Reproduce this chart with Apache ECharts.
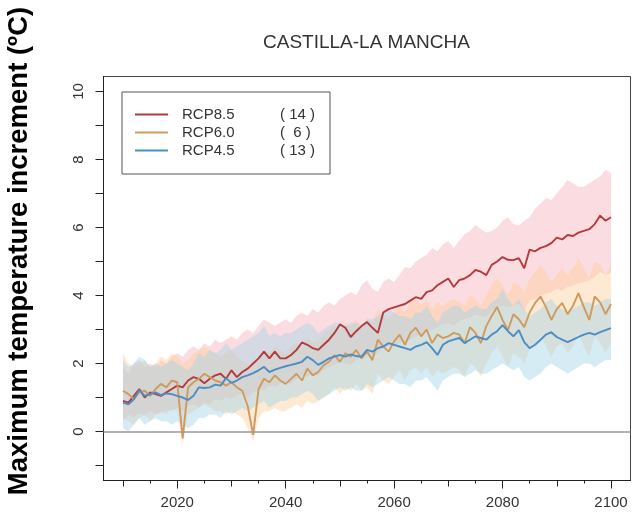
<!DOCTYPE html>
<html>
<head>
<meta charset="utf-8">
<script src="https://cdn.jsdelivr.net/npm/echarts@6/dist/echarts.min.js"></script>
<style>
  html, body { margin: 0; padding: 0; background: #ffffff; }
  #chart { width: 644px; height: 515px; }
</style>
</head>
<body>
<div id="chart"></div>
<script>
// Years of the projection (annual values)
const years = [
  2010,2011,2012,2013,2014,2015,2016,2017,2018,2019,
  2020,2021,2022,2023,2024,2025,2026,2027,2028,2029,
  2030,2031,2032,2033,2034,2035,2036,2037,2038,2039,
  2040,2041,2042,2043,2044,2045,2046,2047,2048,2049,
  2050,2051,2052,2053,2054,2055,2056,2057,2058,2059,
  2060,2061,2062,2063,2064,2065,2066,2067,2068,2069,
  2070,2071,2072,2073,2074,2075,2076,2077,2078,2079,
  2080,2081,2082,2083,2084,2085,2086,2087,2088,2089,
  2090,2091,2092,2093,2094,2095,2096,2097,2098,2099,2100
];

// Ensemble mean of maximum temperature increment (ºC)
const rcp85Mean = [
  0.90,0.85,1.05,1.25,1.00,1.15,1.10,1.05,1.15,1.25,
  1.35,1.30,1.50,1.60,1.55,1.42,1.55,1.65,1.70,1.55,
  1.80,1.60,1.75,1.85,2.00,2.15,2.35,2.15,2.35,2.15,
  2.15,2.25,2.40,2.62,2.55,2.45,2.40,2.55,2.70,2.90,
  3.15,3.05,2.78,2.95,3.10,3.22,3.05,2.90,3.50,3.60,
  3.65,3.70,3.75,3.85,3.95,3.90,4.10,4.15,4.30,4.40,
  4.50,4.25,4.45,4.50,4.60,4.75,4.70,4.60,4.90,5.00,
  5.13,5.05,5.04,5.10,4.80,5.35,5.30,5.40,5.45,5.54,
  5.70,5.65,5.78,5.75,5.85,5.90,5.95,6.10,6.35,6.20,6.30
];
const rcp60Mean = [
  1.20,1.10,0.95,1.15,1.20,1.05,1.25,1.40,1.30,1.50,
  1.45,-0.20,1.30,1.45,1.55,1.70,1.60,1.50,1.45,1.35,
  1.45,1.30,1.20,0.75,-0.10,1.25,1.55,1.45,1.65,1.50,
  1.40,1.55,1.70,1.50,1.85,1.65,1.75,1.95,2.05,2.25,
  2.05,2.30,2.20,2.40,2.15,2.35,2.10,2.70,2.50,2.35,
  2.65,2.85,2.55,2.90,3.05,2.80,3.00,2.60,2.85,2.75,
  2.80,2.90,2.85,2.60,3.07,2.90,2.60,3.10,3.40,3.66,
  3.28,2.98,3.45,3.30,3.07,3.50,3.78,3.97,3.66,3.28,
  3.60,3.78,3.45,3.70,4.07,3.66,3.28,3.97,3.80,3.45,3.75
];
const rcp45Mean = [
  0.85,0.80,0.95,1.22,1.05,1.10,1.15,1.07,1.12,1.10,
  1.05,1.00,0.93,1.05,1.30,1.28,1.30,1.38,1.35,1.57,
  1.43,1.50,1.60,1.65,1.72,1.80,1.90,1.75,1.82,1.87,
  1.92,1.96,2.00,2.05,2.20,2.10,1.96,2.05,2.15,2.20,
  2.25,2.20,2.27,2.22,2.20,2.40,2.35,2.45,2.50,2.60,
  2.55,2.50,2.45,2.40,2.50,2.55,2.63,2.45,2.25,2.55,
  2.65,2.70,2.75,2.60,2.70,2.80,2.75,2.70,2.85,2.95,
  3.13,2.95,2.80,2.98,2.63,2.45,2.55,2.70,2.85,2.92,
  2.78,2.70,2.63,2.70,2.78,2.85,2.90,2.85,2.92,2.98,3.04
];

// Ensemble spread (lower and upper limits)
const rcp85Low = [
  0.30,0.50,0.40,0.55,0.45,0.60,0.50,0.55,0.65,0.60,
  0.70,0.60,0.75,0.80,0.70,0.85,0.80,0.95,0.90,1.00,
  0.95,1.05,1.10,1.00,1.15,1.25,1.20,1.35,1.30,1.40,
  1.45,1.40,1.55,1.65,1.60,1.70,1.65,1.80,1.90,1.95,
  2.05,2.00,1.95,2.10,2.20,2.25,2.15,2.30,2.45,2.50,
  2.55,2.60,2.65,2.70,2.80,2.85,2.95,3.00,3.05,3.15,
  3.20,3.10,3.25,3.30,3.35,3.45,3.40,3.35,3.55,3.65,
  3.70,3.65,3.70,3.75,3.55,3.85,3.90,4.00,4.05,4.10,
  4.20,4.15,4.25,4.30,4.35,4.40,4.45,4.55,4.70,4.60,4.65
];
const rcp85High = [
  1.9,1.7,2.0,2.1,1.9,2.0,1.9,2.1,2.0,2.2,
  2.3,2.2,2.4,2.5,2.4,2.6,2.5,2.7,2.6,2.7,
  2.8,2.7,2.9,3.0,2.9,3.1,3.3,3.2,3.1,3.2,
  3.3,3.2,3.4,3.5,3.4,3.6,3.5,3.7,3.8,3.7,
  3.9,4.0,4.1,4.0,4.3,4.45,4.2,4.1,4.4,4.5,
  4.4,4.6,4.84,4.8,5.0,5.1,5.2,5.4,5.3,5.5,
  5.6,5.4,5.6,5.8,5.9,6.07,5.95,5.85,5.9,6.0,
  6.2,6.3,6.1,6.05,6.2,6.3,6.55,6.7,6.87,6.8,
  7.0,7.2,7.4,7.3,7.2,7.2,7.3,7.4,7.5,7.7,7.6
];
const rcp60Low = [
  0.4,0.3,0.2,0.4,0.5,0.3,0.5,0.6,0.5,0.7,
  0.6,-0.4,0.5,0.6,0.7,0.8,0.7,0.6,0.6,0.5,
  0.6,0.5,0.4,0.1,-0.3,0.4,0.6,0.6,0.7,0.6,
  0.6,0.7,0.8,0.7,0.9,0.8,0.9,1.0,1.1,1.3,
  1.1,1.3,1.2,1.4,1.2,1.3,1.1,1.7,1.5,1.4,
  1.6,1.8,1.5,1.8,1.9,1.7,1.9,1.6,1.8,1.7,
  1.8,1.9,1.8,1.6,2.0,1.9,1.6,2.0,2.3,2.5,
  2.2,1.9,2.3,2.2,2.0,2.4,2.6,2.8,2.5,2.2,
  2.5,2.6,2.3,2.5,2.9,2.5,2.2,2.8,2.6,2.3,2.6
];
const rcp60High = [
  2.3,2.0,1.9,2.0,2.1,1.9,2.0,2.2,2.1,2.3,
  2.2,2.0,2.1,2.3,2.4,2.5,2.4,2.3,2.2,2.3,
  2.4,2.2,2.1,2.0,1.9,2.2,2.4,2.3,2.5,2.4,
  2.3,2.5,2.6,2.5,2.8,2.6,2.7,2.9,3.0,3.1,
  3.0,3.2,3.1,3.3,3.1,3.3,3.2,3.6,3.4,3.3,
  3.5,3.7,3.5,3.8,3.9,3.7,3.9,3.6,3.8,3.7,
  3.8,3.9,3.8,3.7,4.0,3.9,3.7,4.0,4.3,4.5,
  4.3,4.0,4.4,4.3,4.1,4.5,4.7,4.9,4.7,4.4,
  4.6,4.8,4.6,4.8,5.1,4.8,4.5,5.0,4.9,4.6,4.9
];
const rcp45Low = [
  0.1,0.0,0.2,0.4,0.2,0.3,0.4,0.3,0.3,0.2,
  0.3,0.2,0.1,0.2,0.4,0.4,0.5,0.5,0.4,0.6,
  0.5,0.6,0.7,0.6,0.7,0.8,0.9,0.7,0.8,0.9,
  0.9,1.0,1.0,1.1,1.2,1.1,0.9,1.0,1.1,1.2,
  1.3,1.2,1.3,1.2,1.2,1.4,1.3,1.4,1.5,1.6,
  1.5,1.4,1.4,1.3,1.5,1.5,1.6,1.4,1.2,1.5,
  1.6,1.7,1.7,1.6,1.7,1.8,1.7,1.7,1.8,1.9,
  2.0,1.9,1.8,1.9,1.6,1.5,1.6,1.7,1.9,2.0,
  1.9,1.8,1.7,1.8,1.9,2.0,2.0,1.9,2.0,2.1,2.1
];
const rcp45High = [
  2.1,1.9,2.0,2.2,2.1,1.9,2.0,1.9,2.0,2.1,
  2.0,1.9,1.8,2.0,2.3,2.2,2.4,2.3,2.4,2.6,
  2.4,2.5,2.6,2.7,2.8,2.9,3.1,2.8,2.9,2.8,
  2.9,2.9,3.0,3.1,3.2,3.1,2.9,3.0,3.1,3.2,
  3.2,3.1,3.2,3.2,3.1,3.3,3.3,3.4,3.5,3.6,
  3.5,3.4,3.4,3.3,3.5,3.5,3.7,3.4,3.2,3.5,
  3.6,3.7,3.7,3.5,3.6,3.7,3.6,3.6,3.8,3.9,
  4.2,3.9,3.7,3.9,3.6,3.4,3.5,3.6,3.8,3.9,
  3.7,3.6,3.5,3.6,3.7,3.8,3.8,3.7,3.8,3.9,3.9
];

// Scenario names and number of models in each ensemble
const scenarios = ['RCP8.5', 'RCP6.0', 'RCP4.5'];
const modelCounts = ['( 14 )', '(  6 )', '( 13 )'];

// Axis ticks and labels
const xLabelYears = [2020, 2040, 2060, 2080, 2100];
const xDecadeTicks = [2010, 2030, 2050, 2070, 2090];
const xHalfDecadeTicks = [2015, 2025, 2035, 2045, 2055, 2065, 2075, 2085, 2095];
const yTicks = [-1, 0, 1, 2, 3, 4, 5, 6, 7, 8, 9, 10];
const yLabels = [0, 2, 4, 6, 8, 10];

const FONT = '"Liberation Sans", Arial, Helvetica, sans-serif';
const X_MIN = 2006.4, X_MAX = 2103.6;
const Y_MIN = -1.44, Y_MAX = 10.44;

const pairs = (vals) => years.map((y, i) => [y, vals[i]]);

// Shaded spread between lower and upper limits, drawn as one polygon
function band(key, lo, hi, fill) {
  return {
    name: key + ' spread', type: 'custom', xAxisIndex: 0, silent: true, z: 1,
    data: years.map((y, i) => [y, lo[i], hi[i]]),
    encode: { x: 0, y: [1, 2] },
    renderItem: function (params, api) {
      if (params.dataIndex !== 0) return null;
      const pts = [];
      for (let i = 0; i < years.length; i++) pts.push(api.coord([years[i], hi[i]]));
      for (let i = years.length - 1; i >= 0; i--) pts.push(api.coord([years[i], lo[i]]));
      return { type: 'polygon', shape: { points: pts }, style: { fill: fill } };
    }
  };
}

function meanLine(name, vals, color) {
  return {
    name: name, type: 'line', xAxisIndex: 0, data: pairs(vals),
    symbol: 'none', silent: true, z: 3,
    lineStyle: { color: color, width: 1.9 },
    itemStyle: { color: color }
  };
}

function tickAxis(values, len, withLabels) {
  return {
    type: 'value', position: 'bottom', min: X_MIN, max: X_MAX,
    axisLine: { show: true, onZero: false, lineStyle: { color: '#222', width: 1 } },
    splitLine: { show: false },
    axisTick: { show: true, customValues: values, length: len, inside: false,
                lineStyle: { color: '#222', width: 1 } },
    axisLabel: withLabels
      ? { show: true, customValues: values, margin: 15, color: '#333',
          fontFamily: FONT, fontSize: 15, formatter: (v) => String(v) }
      : { show: false }
  };
}

const chart = echarts.init(document.getElementById('chart'), null, { renderer: 'canvas' });

const counts = {};
scenarios.forEach((s, i) => { counts[s] = modelCounts[i]; });
const lineColors = { 'RCP8.5': '#b43a3c', 'RCP6.0': '#cf9a5e', 'RCP4.5': '#4b8dc4' };

chart.setOption({
  animation: false,
  backgroundColor: '#ffffff',
  title: {
    text: 'CASTILLA-LA MANCHA',
    left: 263, top: 33, padding: 0,
    textStyle: { fontFamily: FONT, fontSize: 19, fontWeight: 'normal', color: '#333' }
  },
  grid: {
    left: 103.5, right: 13.5, top: 76.5, bottom: 34.5,
    show: true, borderColor: '#444', borderWidth: 1, backgroundColor: 'transparent'
  },
  legend: {
    data: scenarios.map((s) => ({ name: s, icon: 'rect', itemStyle: { color: lineColors[s] } })),
    orient: 'vertical',
    left: 122, top: 92,
    padding: [15, 15, 16, 13],
    itemGap: 3, itemWidth: 33, itemHeight: 2,
    borderColor: '#555', borderWidth: 1,
    selectedMode: false,
    formatter: (name) => '{n|' + name + '}{c|' + counts[name] + '}',
    textStyle: {
      fontFamily: FONT, fontSize: 15, color: '#333',
      rich: {
        n: { width: 98, padding: [0, 0, 0, 9], fontFamily: FONT, fontSize: 15, color: '#333' },
        c: { fontFamily: FONT, fontSize: 15, color: '#333' }
      }
    }
  },
  xAxis: [
    tickAxis(xLabelYears, 8, true),
    tickAxis(xDecadeTicks, 6, false),
    tickAxis(xHalfDecadeTicks, 3, false)
  ],
  yAxis: {
    type: 'value', min: Y_MIN, max: Y_MAX,
    axisLine: { show: true, lineStyle: { color: '#222', width: 1 } },
    splitLine: { show: false },
    axisTick: { show: true, customValues: yTicks, length: 8, lineStyle: { color: '#222', width: 1 } },
    axisLabel: { show: true, customValues: yLabels, rotate: 90, margin: 17,
                 color: '#333', fontFamily: FONT, fontSize: 15 }
  },
  graphic: [{
    type: 'text',
    x: 19, y: 251, rotation: Math.PI / 2,
    style: {
      text: 'Maximum temperature increment (ºC)',
      x: 0, y: 0, align: 'center', verticalAlign: 'middle',
      font: 'bold 27.5px ' + FONT, fill: '#000'
    }
  }],
  series: [
    band('RCP8.5', rcp85Low, rcp85High, 'rgba(246,178,188,0.45)'),
    band('RCP6.0', rcp60Low, rcp60High, 'rgba(252,205,150,0.42)'),
    band('RCP4.5', rcp45Low, rcp45High, 'rgba(165,212,232,0.45)'),
    {
      name: 'zero', type: 'line', xAxisIndex: 0, data: [], silent: true,
      markLine: {
        silent: true, symbol: 'none', label: { show: false },
        lineStyle: { color: '#999', type: 'solid', width: 1.5 },
        data: [{ yAxis: 0 }]
      },
      z: 2
    },
    meanLine('RCP8.5', rcp85Mean, lineColors['RCP8.5']),
    meanLine('RCP6.0', rcp60Mean, lineColors['RCP6.0']),
    meanLine('RCP4.5', rcp45Mean, lineColors['RCP4.5'])
  ]
});
</script>
</body>
</html>
